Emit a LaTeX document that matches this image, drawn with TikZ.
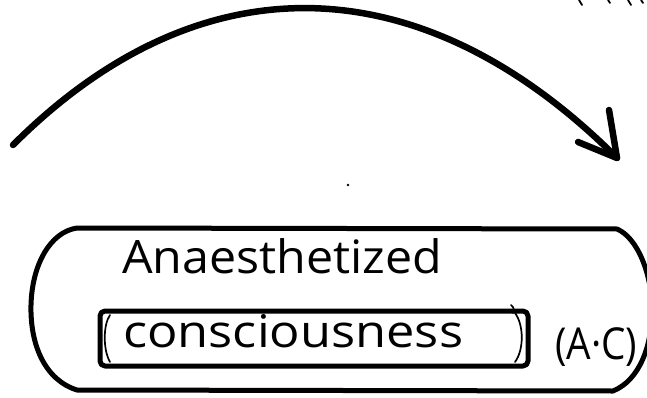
\documentclass[tikz,border=0pt]{standalone}
\usepackage{fontspec}
\setmainfont{Open Sans}
\usepackage{graphicx}
\begin{document}
\begin{tikzpicture}[x=1pt,y=-1pt,line cap=round,line join=round]
\tikzset{
  pen/.style={line width=6.5pt},
  boxpen/.style={line width=5pt},
  thinpen/.style={line width=1.7pt},
  txt/.style={inner sep=0pt,anchor=base west},
}
\useasboundingbox (0,0) rectangle (647,398);
% curved arrow
\coordinate (start) at (13,145);
\coordinate (tip) at (617,158);
\coordinate (barbR) at (609,110);
\coordinate (barbL) at (578,142);
\draw[pen] (start) .. controls (204,-46) and (426,-33) .. (tip);
\draw[pen] (barbR) -- (tip) -- (barbL);
% stray dot
\fill (348,185) circle (1.3);
% cropped marks at top right
\draw[line width=1.8pt] (579,0) -- (582,5);
\draw[line width=1.8pt] (608,0) -- (610,3);
\draw[line width=1.8pt] (628,0) -- (631,5);
\draw[line width=1.8pt] (641,0) -- (643,3);
% outer box
\draw[boxpen] (77,228) -- (617,229)
  .. controls (638,238) and (652,275) .. (652,310)
  .. controls (652,345) and (640,380) .. (613,391)
  -- (77,390)
  .. controls (45,380) and (30,345) .. (31,305)
  .. controls (32,265) and (50,232) .. (77,228) -- cycle;
% inner box
\draw[boxpen,rounded corners=5pt] (100,311) rectangle (528,366);
\draw[thinpen] (110,315) .. controls (103,325) and (103,350) .. (110,362);
\draw[thinpen] (515,313) .. controls (524,325) and (524,350) .. (515,362);
\draw[thinpen] (511,305) .. controls (514,308) .. (513,313);
% texts
\node[txt,font=\fontsize{46}{50}\selectfont] (title) at (122,273)
  {\resizebox{320pt}{\height}{Anaesthetized}};
\node[txt,font=\fontsize{45}{50}\selectfont] (cons) at (123,347)
  {\resizebox{340pt}{\height}{consciousness}};
\node[txt,font=\fontsize{44}{48}\selectfont] (ac) at (555,359)
  {\resizebox{82pt}{\height}{(A·C)}};
\end{tikzpicture}
\end{document}
